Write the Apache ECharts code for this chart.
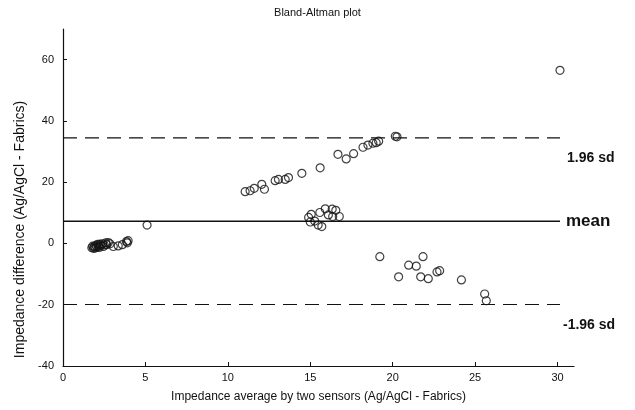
<!DOCTYPE html>
<html>
<head>
<meta charset="utf-8">
<script src="https://cdn.jsdelivr.net/npm/echarts@6/dist/echarts.min.js"></script>
<style>
html,body{margin:0;padding:0;background:#fff;}
#chart{width:635px;height:410px;}
</style>
</head>
<body>
<div id="chart"></div>
<script>
// ---- data ----
const chartTitle = 'Bland-Altman plot';
const xAxisName = 'Impedance average by two sensors (Ag/AgCl - Fabrics)';
const yAxisName = 'Impedance difference (Ag/AgCl - Fabrics)';

// low cluster near zero
const avgLow  = [1.75,1.8,1.85,1.9,1.95,2.0,2.05,2.1,2.15,2.2,2.25,2.3,2.4,2.45,2.5,2.6,2.65,2.75,2.85,3.05,3.35,3.6,3.85,3.95,3.9,5.1];
const diffLow = [-1.4,-0.9,-1.6,-1.0,-1.5,-0.6,-1.2,-0.3,-0.9,-1.3,-0.2,-0.7,-0.1,-1.0,-0.5,0.2,-0.4,0.3,-0.1,-1.0,-0.8,-0.4,0.6,0.9,0.2,6.0];

// upper branch
const avgUp  = [11.05,11.35,11.6,12.06,12.22,12.87,13.07,13.48,13.68,14.49,15.6,16.68,17.18,17.63,18.2,18.5,18.8,19.0,19.15,20.16,20.26,30.15];
const diffUp = [16.9,17.2,18.0,19.3,17.7,20.5,20.9,20.9,21.5,22.9,24.7,29.1,27.6,29.3,31.4,32.1,32.7,32.9,33.4,35.0,34.8,56.5];

// cluster on the mean line
const avgMid  = [14.9,15.06,15.27,15.0,15.48,15.7,15.58,15.91,16.1,16.33,16.55,16.36,16.76];
const diffMid = [8.5,9.5,7.3,7.0,6.0,5.5,10.1,11.3,9.3,11.2,10.8,8.8,8.8];

// lower branch
const avgDown  = [19.22,20.36,20.97,21.43,21.84,21.7,22.16,22.69,22.85,24.17,25.58,25.68];
const diffDown = [-4.3,-10.9,-7.1,-7.4,-4.3,-10.9,-11.5,-9.3,-8.9,-11.9,-16.5,-18.7];

const meanDiff = 7.25;
const upperLoA = 34.45;
const lowerLoA = -19.95;
const lineStartX = 0;
const lineEndX = 30.15;

const xTicks = [0,5,10,15,20,25,30];
const yTicks = [-40,-20,0,20,40,60];
const xRange = [0,31];
const yRange = [-40,70];

const labelMean = 'mean';
const labelUpper = '1.96 sd';
const labelLower = '-1.96 sd';

// ---- build ----
function pairs(xs, ys){ return xs.map((x,i)=>[x, ys[i]]); }
const points = [].concat(pairs(avgLow,diffLow), pairs(avgUp,diffUp), pairs(avgMid,diffMid), pairs(avgDown,diffDown));

const font = 'Liberation Sans, Arial, sans-serif';
const chart = echarts.init(document.getElementById('chart'), null, {renderer:'canvas'});

chart.setOption({
  animation: false,
  backgroundColor: '#fff',
  title: {
    text: chartTitle, left: 'center', top: 2,
    textStyle: {fontFamily: font, fontSize: 11, fontWeight: 'normal', color: '#111'}
  },
  grid: {left: 63, right: 61, top: 29, bottom: 44, containLabel: false},
  xAxis: {
    type: 'value', min: xRange[0], max: xRange[1],
    name: xAxisName, nameLocation: 'middle', nameGap: 25,
    nameTextStyle: {fontFamily: font, fontSize: 12, color: '#111'},
    axisLine: {show: true, onZero: false, lineStyle: {color: '#111', width: 1.2}},
    axisTick: {show: true, inside: true, length: 4, customValues: xTicks, lineStyle: {color: '#111'}},
    axisLabel: {customValues: xTicks, fontFamily: font, fontSize: 11, color: '#111', margin: 6},
    splitLine: {show: false}
  },
  yAxis: {
    type: 'value', min: yRange[0], max: yRange[1],
    name: yAxisName, nameLocation: 'middle', nameGap: 31,
    nameTextStyle: {fontFamily: font, fontSize: 14, color: '#111', padding: [0, 64, 0, 0]},
    axisLine: {show: true, onZero: false, lineStyle: {color: '#111', width: 1.2}},
    axisTick: {show: true, inside: true, length: 4, customValues: yTicks, lineStyle: {color: '#111'}},
    axisLabel: {customValues: yTicks, fontFamily: font, fontSize: 11, color: '#111', margin: 9},
    splitLine: {show: false}
  },
  series: [
    {
      type: 'line',
      data: [[lineStartX, meanDiff],[lineEndX, meanDiff]],
      symbol: 'none', silent: true,
      lineStyle: {color: '#111', width: 1.6},
      endLabel: {show: true, formatter: labelMean, fontFamily: font, fontSize: 17, fontWeight: 'bold', color: '#111', distance: 6}
    },
    {
      type: 'line',
      data: [[lineStartX, upperLoA],[lineEndX, upperLoA]],
      symbol: 'none', silent: true,
      lineStyle: {color: '#111', width: 1.1, type: [14, 8]},
      endLabel: {show: true, formatter: labelUpper, fontFamily: font, fontSize: 14, fontWeight: 'bold', color: '#111', distance: 7, offset: [0, 20]}
    },
    {
      type: 'line',
      data: [[lineStartX, lowerLoA],[lineEndX, lowerLoA]],
      symbol: 'none', silent: true,
      lineStyle: {color: '#111', width: 1.1, type: [14, 8]},
      endLabel: {show: true, formatter: labelLower, fontFamily: font, fontSize: 14, fontWeight: 'bold', color: '#111', distance: 3, offset: [0, 21]}
    },
    {
      type: 'scatter',
      data: points,
      symbol: 'circle', symbolSize: 8,
      itemStyle: {color: 'rgba(0,0,0,0)', borderColor: '#111', borderWidth: 1.2},
      z: 5
    }
  ]
});
</script>
</body>
</html>
